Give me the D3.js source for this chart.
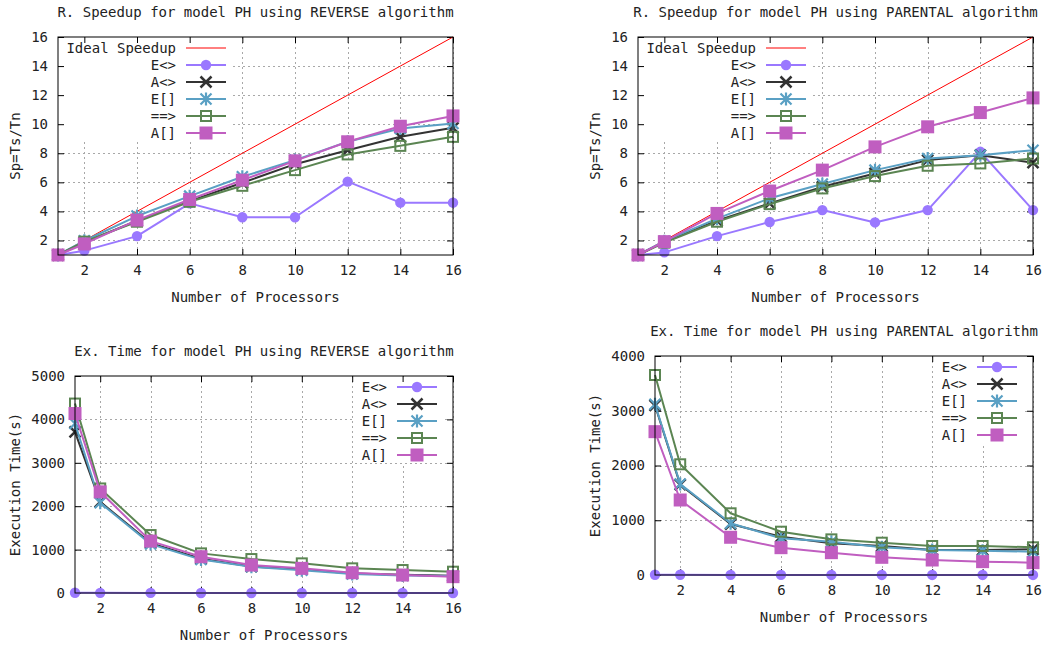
<!DOCTYPE html>
<html>
<head>
<meta charset="utf-8">
<script src="https://cdn.jsdelivr.net/npm/d3@7"></script>
<style>
  html, body { margin: 0; padding: 0; background: #fff; }
  svg text { font-family: "DejaVu Sans Mono", "Liberation Mono", monospace; font-size: 14px; fill: #222; }
</style>
</head>
<body>
<svg id="chart" width="1051" height="649"></svg>
<script>
// ---------------- DATA ----------------
const procs = [1, 2, 4, 6, 8, 10, 12, 14, 16];
const xTicks = [2, 4, 6, 8, 10, 12, 14, 16];
const seriesNames = ["E<>", "A<>", "E[]", "==>", "A[]"];
const idealLabel = "Ideal Speedup";
const idealSpeedup = [1, 2, 4, 6, 8, 10, 12, 14, 16];

const speedupTicks = [2, 4, 6, 8, 10, 12, 14, 16];
const timeTicksReverse = [0, 1000, 2000, 3000, 4000, 5000];
const timeTicksParental = [0, 1000, 2000, 3000, 4000];

// Relative speedup, REVERSE algorithm
const spRevE_diamond = [1, 1.3, 2.3, 4.55, 3.6, 3.6, 6.05, 4.6, 4.6];
const spRevA_diamond = [1, 1.87, 3.36, 4.71, 5.97, 7.25, 8.21, 9.13, 9.75];
const spRevE_box     = [1, 1.98, 3.68, 5.05, 6.38, 7.53, 8.79, 9.7, 10.05];
const spRevImplies   = [1, 1.92, 3.29, 4.66, 5.76, 6.84, 7.92, 8.51, 9.13];
const spRevA_box     = [1, 1.76, 3.4, 4.82, 6.15, 7.48, 8.79, 9.86, 10.57];

// Relative speedup, PARENTAL algorithm
const spParE_diamond = [1, 1.18, 2.3, 3.27, 4.09, 3.24, 4.09, 8.1, 4.09];
const spParA_diamond = [1, 1.9, 3.36, 4.55, 5.69, 6.61, 7.53, 7.87, 7.35];
const spParE_box     = [1, 1.95, 3.5, 4.9, 5.88, 6.84, 7.64, 7.87, 8.21];
const spParImplies   = [1, 1.85, 3.29, 4.5, 5.58, 6.43, 7.14, 7.3, 7.64];
const spParA_box     = [1, 1.92, 3.86, 5.4, 6.84, 8.44, 9.82, 10.8, 11.81];

// Execution time (s), REVERSE algorithm
const tRevE_diamond = [5, 4, 2, 1, 1, 1, 1, 1, 1];
const tRevA_diamond = [3712, 2100, 1150, 790, 610, 545, 450, 420, 395];
const tRevE_box     = [3905, 2078, 1127, 770, 605, 525, 440, 405, 390];
const tRevImplies   = [4365, 2409, 1335, 913, 782, 683, 568, 529, 491];
const tRevA_box     = [4135, 2331, 1196, 836, 644, 568, 467, 414, 376];

// Execution time (s), PARENTAL algorithm
const tParE_diamond = [5, 4, 2, 2, 1, 1, 1, 1, 1];
const tParA_diamond = [3100, 1650, 930, 700, 580, 530, 457, 457, 469];
const tParE_box     = [3117, 1662, 944, 670, 609, 506, 457, 444, 426];
const tParImplies   = [3653, 2022, 1127, 791, 651, 590, 530, 530, 506];
const tParA_box     = [2618, 1370, 689, 499, 408, 323, 274, 244, 225];

// ---------------- STYLE ----------------
const colors = ["#9a78ff", "#333333", "#5aa0c4", "#5b8552", "#c05ec0"];
const markers = ["circle", "x", "star", "openSquare", "filledSquare"];
const idealColor = "#ff0000";

const panels = [
  { left: 58, right: 453, top: 37, bottom: 255, yDomain: [1, 16], yTicks: speedupTicks,
    title: "R. Speedup for model PH using REVERSE algorithm", ylabel: "Sp=Ts/Tn", ylabelX: 15,
    ideal: idealSpeedup, series: [spRevE_diamond, spRevA_diamond, spRevE_box, spRevImplies, spRevA_box],
    keyRight: 176, keyS1: 186, keyS2: 226, keyBox: [58, 37, 232, 141] },
  { left: 638, right: 1033, top: 37, bottom: 255, yDomain: [1, 16], yTicks: speedupTicks,
    title: "R. Speedup for model PH using PARENTAL algorithm", ylabel: "Sp=Ts/Tn", ylabelX: 595,
    ideal: idealSpeedup, series: [spParE_diamond, spParA_diamond, spParE_box, spParImplies, spParA_box],
    keyRight: 756, keyS1: 766, keyS2: 806, keyBox: [638, 37, 812, 141] },
  { left: 75, right: 453, top: 376, bottom: 593, yDomain: [0, 5000], yTicks: timeTicksReverse,
    title: "Ex. Time for model PH using REVERSE algorithm", ylabel: "Execution Time(s)", ylabelX: 15,
    ideal: null, series: [tRevE_diamond, tRevA_diamond, tRevE_box, tRevImplies, tRevA_box],
    keyRight: 387, keyS1: 397, keyS2: 437, keyBox: [355, 377, 443, 463] },
  { left: 655, right: 1033, top: 356, bottom: 575, yDomain: [0, 4000], yTicks: timeTicksParental,
    title: "Ex. Time for model PH using PARENTAL algorithm", ylabel: "Execution Time(s)", ylabelX: 595,
    ideal: null, series: [tParE_diamond, tParA_diamond, tParE_box, tParImplies, tParA_box],
    keyRight: 967, keyS1: 977, keyS2: 1017, keyBox: [935, 357, 1023, 444] }
];

const svg = d3.select("#chart");
const fmt = d3.format("d");

function drawMarker(g, type, cx, cy, color) {
  if (type === "circle") {
    g.append("circle").attr("cx", cx).attr("cy", cy).attr("r", 5.2).attr("fill", color);
  } else if (type === "x") {
    const s = 5.5;
    g.append("path").attr("d", `M${cx - s},${cy - s}L${cx + s},${cy + s}M${cx - s},${cy + s}L${cx + s},${cy - s}`)
      .attr("stroke", color).attr("stroke-width", 2.5).attr("fill", "none");
  } else if (type === "star") {
    const s = 5.5, d = 6.5;
    g.append("path").attr("d", `M${cx - s},${cy - s}L${cx + s},${cy + s}M${cx - s},${cy + s}L${cx + s},${cy - s}M${cx},${cy - d}L${cx},${cy + d}`)
      .attr("stroke", color).attr("stroke-width", 2.2).attr("fill", "none");
  } else if (type === "openSquare") {
    const s = 5;
    g.append("rect").attr("x", cx - s).attr("y", cy - s).attr("width", 2 * s).attr("height", 2 * s)
      .attr("fill", "none").attr("stroke", color).attr("stroke-width", 2);
  } else if (type === "filledSquare") {
    const s = 6.5;
    g.append("rect").attr("x", cx - s).attr("y", cy - s).attr("width", 2 * s).attr("height", 2 * s)
      .attr("fill", color);
  }
}

panels.forEach(p => {
  const x = d3.scaleLinear().domain([1, 16]).range([p.left, p.right]);
  const y = d3.scaleLinear().domain(p.yDomain).range([p.bottom, p.top]);
  const g = svg.append("g");

  // grid
  const grid = g.append("g").attr("stroke", "#a8a8a8").attr("stroke-width", 1).attr("stroke-dasharray", "2,3");
  xTicks.forEach(t => {
    grid.append("line").attr("x1", Math.round(x(t)) + 0.5).attr("x2", Math.round(x(t)) + 0.5)
      .attr("y1", p.top).attr("y2", p.bottom);
  });
  p.yTicks.forEach(t => {
    if (y(t) <= p.top + 0.5 || y(t) >= p.bottom - 0.5) return;
    grid.append("line").attr("y1", Math.round(y(t)) + 0.5).attr("y2", Math.round(y(t)) + 0.5)
      .attr("x1", p.left).attr("x2", p.right);
  });

  // opaque key area
  const kb = p.keyBox;
  g.append("rect").attr("x", kb[0]).attr("y", kb[1]).attr("width", kb[2] - kb[0]).attr("height", kb[3] - kb[1])
    .attr("fill", "#fff");

  // axes (ticks inward, mirrored)
  const tickLen = 6;
  const axB = g.append("g").attr("transform", `translate(0,${p.bottom})`)
    .call(d3.axisBottom(x).tickValues(xTicks).tickFormat(fmt).tickSize(-tickLen).tickSizeOuter(0).tickPadding(10));
  const axT = g.append("g").attr("transform", `translate(0,${p.top})`)
    .call(d3.axisTop(x).tickValues(xTicks).tickSize(-tickLen).tickSizeOuter(0).tickFormat(""));
  const axL = g.append("g").attr("transform", `translate(${p.left},0)`)
    .call(d3.axisLeft(y).tickValues(p.yTicks).tickFormat(fmt).tickSize(-tickLen).tickSizeOuter(0).tickPadding(10));
  const axR = g.append("g").attr("transform", `translate(${p.right},0)`)
    .call(d3.axisRight(y).tickValues(p.yTicks).tickSize(-tickLen).tickSizeOuter(0).tickFormat(""));
  [axB, axT, axL, axR].forEach(a => {
    a.select(".domain").remove();
    a.selectAll("line").attr("stroke", "#000");
    a.selectAll("text").style("font-family", '"DejaVu Sans Mono", monospace').style("font-size", "14px").attr("fill", "#222");
  });
  axB.selectAll("text").attr("dy", "0.71em").attr("y", 10);

  // series lines & markers
  const line = d3.line().x((d, i) => x(procs[i])).y(d => y(d));
  if (p.ideal) {
    g.append("path").attr("d", line(p.ideal))
      .attr("fill", "none").attr("stroke", idealColor).attr("stroke-width", 1);
  }
  p.series.forEach((s, si) => {
    const sg = g.append("g");
    sg.append("path").attr("d", line(s)).attr("fill", "none").attr("stroke", colors[si])
      .attr("stroke-width", 2).attr("stroke-linejoin", "round");
    s.forEach((v, i) => drawMarker(sg, markers[si], x(procs[i]), y(v), colors[si]));
  });

  // border
  g.append("rect").attr("x", p.left).attr("y", p.top).attr("width", p.right - p.left).attr("height", p.bottom - p.top)
    .attr("fill", "none").attr("stroke", "#000").attr("stroke-width", 1);

  // key
  const key = g.append("g");
  let ky = p.top + 11;
  const rowH = 17;
  if (p.ideal) {
    key.append("text").attr("x", p.keyRight).attr("y", ky).attr("dy", "0.35em").attr("text-anchor", "end").text(idealLabel);
    key.append("line").attr("x1", p.keyS1).attr("x2", p.keyS2).attr("y1", ky).attr("y2", ky)
      .attr("stroke", idealColor).attr("stroke-width", 1);
    ky += rowH;
  }
  seriesNames.forEach((n, si) => {
    key.append("text").attr("x", p.keyRight).attr("y", ky).attr("dy", "0.35em").attr("text-anchor", "end").text(n);
    key.append("line").attr("x1", p.keyS1).attr("x2", p.keyS2).attr("y1", ky).attr("y2", ky)
      .attr("stroke", colors[si]).attr("stroke-width", 2);
    drawMarker(key, markers[si], (p.keyS1 + p.keyS2) / 2, ky, colors[si]);
    ky += rowH;
  });

  // titles & labels
  const cx = (p.left + p.right) / 2;
  g.append("text").attr("x", cx).attr("y", p.top - 25).attr("dy", "0.35em").attr("text-anchor", "middle").text(p.title);
  g.append("text").attr("x", cx).attr("y", p.bottom + 42).attr("dy", "0.35em").attr("text-anchor", "middle").text("Number of Processors");
  g.append("text").attr("transform", `translate(${p.ylabelX},${(p.top + p.bottom) / 2}) rotate(-90)`)
    .attr("dy", "0.35em").attr("text-anchor", "middle").text(p.ylabel);
});
</script>
</body>
</html>
